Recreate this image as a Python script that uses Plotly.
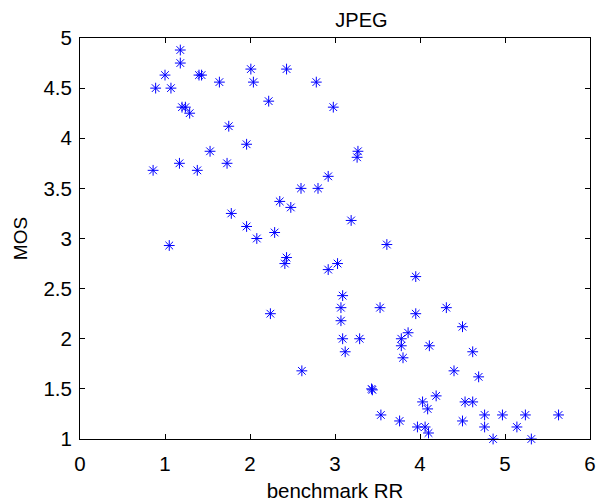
import plotly.graph_objects as go

benchmark_rr = [
    1.18, 1.18, 1.00, 1.40, 1.43, 0.89, 1.07, 1.64, 2.01, 2.04,
    2.43, 2.78, 2.22, 2.98, 1.20, 1.24, 1.29, 1.75, 1.96, 1.53,
    1.17, 1.73, 0.86, 1.38, 2.92, 2.60, 2.80, 2.35, 2.48, 1.78,
    1.96, 2.08, 2.29, 3.27, 3.26, 3.19, 1.05, 2.43, 2.41, 2.92,
    2.24, 2.61, 3.03, 3.61, 3.95, 3.09, 3.07, 3.53, 3.95, 4.31,
    3.07, 4.50, 3.09, 3.29, 3.78, 3.86, 3.78, 4.11, 3.12, 4.62,
    3.80, 4.40, 4.69, 3.43, 3.44, 4.19, 4.03, 4.09, 4.53, 4.62,
    3.54, 3.76, 3.97, 4.06, 4.10, 4.50, 4.76, 4.76, 4.97, 5.24,
    5.63, 5.14, 4.86, 5.31,
]
mos = [
    4.88, 4.75, 4.63, 4.63, 4.63, 4.50, 4.50, 4.56, 4.69, 4.56,
    4.69, 4.56, 4.37, 4.31, 4.31, 4.31, 4.25, 4.12, 3.94, 3.87,
    3.75, 3.75, 3.68, 3.68, 3.62, 3.50, 3.50, 3.37, 3.31, 3.25,
    3.12, 3.00, 3.06, 3.87, 3.81, 3.18, 2.93, 2.81, 2.75, 2.69,
    2.25, 1.68, 2.75, 2.94, 2.62, 2.43, 2.31, 2.31, 2.25, 2.31,
    2.18, 2.12, 2.00, 2.00, 2.00, 2.06, 1.93, 1.93, 1.87, 1.87,
    1.81, 1.68, 1.62, 1.50, 1.49, 1.43, 1.37, 1.30, 1.37, 1.37,
    1.24, 1.18, 1.12, 1.12, 1.06, 1.18, 1.24, 1.12, 1.24, 1.24,
    1.24, 1.12, 1.00, 1.00,
]

x_ticks = [0, 1, 2, 3, 4, 5, 6]
y_ticks = [1, 1.5, 2, 2.5, 3, 3.5, 4, 4.5, 5]
y_tick_text = ["1", "1.5", "2", "2.5", "3", "3.5", "4", "4.5", "5"]

font_family = "Liberation Sans, Arial, sans-serif"

fig = go.Figure()
fig.add_trace(go.Scatter(
    x=benchmark_rr, y=mos, mode="markers",
    marker=dict(symbol="asterisk-open", size=9,
                color="#0000ff", line=dict(color="#0000ff", width=1)),
    cliponaxis=False, showlegend=False,
))

axis_common = dict(
    showline=True, linecolor="black", linewidth=1, mirror="ticks",
    ticks="inside", ticklen=5, tickcolor="black", tickwidth=1,
    showgrid=False, zeroline=False, automargin=False,
    tickfont=dict(family=font_family, size=20.5, color="black"),
)

fig.update_layout(
    width=607, height=504,
    margin=dict(l=80, r=17, t=37.5, b=64.5),
    paper_bgcolor="white", plot_bgcolor="white",
    title=dict(text="JPEG", x=335 / 607, xanchor="center",
               y=1 - 20 / 504, yanchor="middle", xref="paper",
               font=dict(family=font_family, size=20, color="black")),
    xaxis=dict(range=[0, 6], tickvals=x_ticks, ticktext=[str(v) for v in x_ticks],
               ticklabelstandoff=6,
               title=dict(text="benchmark RR", standoff=10,
                          font=dict(family=font_family, size=20.5, color="black")),
               **axis_common),
    yaxis=dict(range=[1, 5], tickvals=y_ticks, ticktext=y_tick_text,
               ticklabelstandoff=3,
               title=dict(text="MOS", standoff=10,
                          font=dict(family=font_family, size=19, color="black")),
               **axis_common),
)

fig.write_html("out.html")
